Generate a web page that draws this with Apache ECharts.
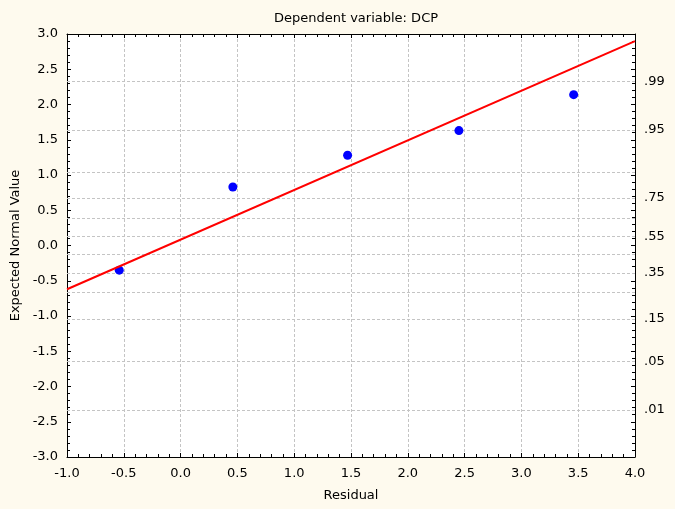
<!DOCTYPE html>
<html>
<head>
<meta charset="utf-8">
<script src="https://cdn.jsdelivr.net/npm/echarts@6/dist/echarts.min.js"></script>
<style>
  html, body { margin: 0; padding: 0; background: #ffffff; }
  #chart { width: 684px; height: 517px; }
</style>
</head>
<body>
<div id="chart"></div>
<script>
// Residuals against expected normal values
const residuals = [-0.54, 0.46, 1.47, 2.45, 3.46];
const expectedNormal = [-0.35, 0.83, 1.28, 1.63, 2.14];

// Fitted reference line, evaluated at the x-axis limits
const fitX = [-1.0, 4.0];
const fitY = [-0.62, 2.90];

// Axis tick values
const xTicks = [-1.0, -0.5, 0.0, 0.5, 1.0, 1.5, 2.0, 2.5, 3.0, 3.5, 4.0];
const yTicks = [-3.0, -2.5, -2.0, -1.5, -1.0, -0.5, 0.0, 0.5, 1.0, 1.5, 2.0, 2.5, 3.0];

// Cumulative probabilities on the right-hand scale
const probGrid = [0.01, 0.05, 0.15, 0.25, 0.35, 0.45, 0.55, 0.65, 0.75, 0.85, 0.95, 0.99];
const probLabels = ['.01', '.05', '.15', '.35', '.55', '.75', '.95', '.99'];

// Inverse standard normal CDF (Acklam's rational approximation)
function normInv(p) {
  const a = [-3.969683028665376e+01, 2.209460984245205e+02, -2.759285104469687e+02,
             1.383577518672690e+02, -3.066479806614716e+01, 2.506628277459239e+00];
  const b = [-5.447609879822406e+01, 1.615858368580409e+02, -1.556989798598866e+02,
             6.680131188771972e+01, -1.328068155288572e+01];
  const c = [-7.784894002430293e-03, -3.223964580411365e-01, -2.400758277161838e+00,
             -2.549732539343734e+00, 4.374664141464968e+00, 2.938163982698783e+00];
  const d = [7.784695709041462e-03, 3.224671290700398e-01, 2.445134137142996e+00,
             3.754408661907416e+00];
  const pl = 0.02425, ph = 1 - pl;
  let q, r;
  if (p < pl) {
    q = Math.sqrt(-2 * Math.log(p));
    return (((((c[0]*q+c[1])*q+c[2])*q+c[3])*q+c[4])*q+c[5]) /
           ((((d[0]*q+d[1])*q+d[2])*q+d[3])*q+1);
  }
  if (p <= ph) {
    q = p - 0.5; r = q * q;
    return (((((a[0]*r+a[1])*r+a[2])*r+a[3])*r+a[4])*r+a[5])*q /
           (((((b[0]*r+b[1])*r+b[2])*r+b[3])*r+b[4])*r+1);
  }
  q = Math.sqrt(-2 * Math.log(1 - p));
  return -(((((c[0]*q+c[1])*q+c[2])*q+c[3])*q+c[4])*q+c[5]) /
          ((((d[0]*q+d[1])*q+d[2])*q+d[3])*q+1);
}

const labelMap = {};
const labelPositions = probLabels.map(s => {
  const z = normInv(parseFloat('0' + s));
  labelMap[z.toFixed(6)] = s;
  return z;
});
const gridPositions = probGrid.map(p => normInv(p));

const FONT = '"DejaVu Sans", sans-serif';
const textStyle = { color: '#000000', fontFamily: FONT, fontSize: 13 };
const axisLine = { show: true, onZero: false, lineStyle: { color: '#000000', width: 1 } };
const tick = { show: true, inside: true, length: 4, lineStyle: { color: '#000000' } };
const minor = { show: true, splitNumber: 5, length: 3, lineStyle: { color: '#000000' } };
const dashed = { color: '#c4c4c4', type: [3, 2], width: 1 };

const chart = echarts.init(document.getElementById('chart'), null, { renderer: 'canvas' });

chart.setOption({
  backgroundColor: 'transparent',
  animation: false,
  graphic: [{
    type: 'rect', z: -10, silent: true,
    shape: { x: 0, y: 0, width: 675, height: 509 },
    style: { fill: '#fefaee' }
  }],
  title: {
    text: 'Dependent variable: DCP',
    left: 351, top: 7, textAlign: 'center',
    textStyle: { color: '#000000', fontFamily: FONT, fontSize: 13, fontWeight: 'normal' }
  },
  grid: { left: 67, top: 34, right: 49, bottom: 60, show: true, backgroundColor: '#ffffff', borderWidth: 0 },
  xAxis: [{
    type: 'value', position: 'bottom',
    min: xTicks[0], max: xTicks[xTicks.length - 1], interval: 0.5,
    name: 'Residual', nameLocation: 'middle', nameGap: 32,
    nameTextStyle: textStyle,
    axisLine: axisLine, axisTick: tick, minorTick: minor,
    axisLabel: { ...textStyle, margin: 10, formatter: v => v.toFixed(1) },
    splitLine: { show: true, lineStyle: dashed }
  }, {
    type: 'value', position: 'top',
    min: xTicks[0], max: xTicks[xTicks.length - 1], interval: 0.5,
    axisLine: axisLine, axisTick: tick, minorTick: minor,
    axisLabel: { show: false }, splitLine: { show: false }
  }],
  yAxis: [{
    type: 'value', position: 'left',
    min: yTicks[0], max: yTicks[yTicks.length - 1], interval: 0.5,
    name: 'Expected Normal Value', nameLocation: 'middle', nameGap: 44,
    nameTextStyle: textStyle,
    axisLine: axisLine, axisTick: tick, minorTick: minor,
    axisLabel: { ...textStyle, margin: 9, formatter: v => v.toFixed(1) },
    splitLine: { show: false }
  }, {
    type: 'value', position: 'right',
    min: yTicks[0], max: yTicks[yTicks.length - 1], interval: 0.5,
    axisLine: axisLine, axisTick: tick, minorTick: minor,
    axisLabel: {
      ...textStyle, margin: 9,
      customValues: labelPositions,
      formatter: v => labelMap[Number(v).toFixed(6)] || ''
    },
    splitLine: { show: false }
  }],
  series: [{
    // horizontal reference lines at the probability levels
    type: 'line',
    data: [],
    z: 1,
    silent: true,
    markLine: {
      z: 1,
      silent: true, symbol: 'none', animation: false,
      label: { show: false },
      lineStyle: dashed,
      emphasis: { disabled: true },
      data: gridPositions.map(z => ({ yAxis: z }))
    }
  }, {
    type: 'scatter',
    data: residuals.map((x, i) => [x, expectedNormal[i]]),
    symbol: 'circle', symbolSize: 9,
    itemStyle: { color: '#0000ff', opacity: 1 },
    emphasis: { disabled: true },
    z: 4
  }, {
    type: 'line',
    data: fitX.map((x, i) => [x, fitY[i]]),
    symbol: 'none',
    lineStyle: { color: '#ff0000', width: 2 },
    silent: true,
    z: 5
  }]
});
</script>
</body>
</html>
